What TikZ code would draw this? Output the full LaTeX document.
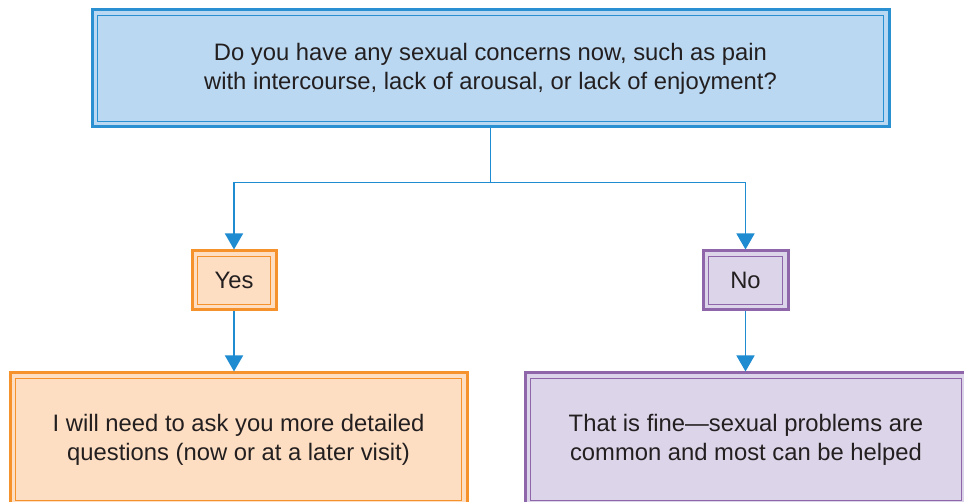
\documentclass[tikz,border=0pt]{standalone}
\usepackage{fontspec}
\setmainfont{Liberation Sans}
\usetikzlibrary{positioning,arrows.meta,calc}
\definecolor{cLink}{HTML}{1F8BD0}
\definecolor{cQuestion}{HTML}{2A90D2}
\definecolor{cQuestionBg}{HTML}{BAD8F1}
\definecolor{cYes}{HTML}{F5922C}
\definecolor{cYesBg}{HTML}{FDDEC2}
\definecolor{cNo}{HTML}{8E66A9}
\definecolor{cNoBg}{HTML}{DCD5E9}
\definecolor{cText}{HTML}{231F20}
\tikzset{
  box/.style={draw, line width=3pt, inner sep=0pt, align=center,
              font=\fontsize{23.8}{29}\selectfont, text=cText},
  qBox/.style={box, draw=cQuestion, fill=cQuestionBg},
  yesBox/.style={box, draw=cYes, fill=cYesBg},
  noBox/.style={box, draw=cNo, fill=cNoBg},
  innerLine/.style={line width=1.2pt},
  link/.style={draw=cLink, line width=1.5pt},
  linkArrow/.style={link, -{Triangle[width=18pt,length=16pt]}},
}

\begin{document}
\begin{tikzpicture}[x=1pt,y=1pt]
\clip (0,0) rectangle (964,502);

% ========== QUESTION ==========
\node[qBox, minimum width=797pt, minimum height=117pt] (q) at (490.5,433.5)
  {Do you have any sexual concerns now, such as pain\\
   with intercourse, lack of arousal, or lack of enjoyment?};

% ========== ANSWERS ==========
\node[yesBox, minimum width=84pt, minimum height=59pt] (yes) at (234,221.5) {Yes};
\node[noBox, minimum width=85pt, minimum height=59pt] (no) at (745.5,221.5) {No};

% ========== FOLLOW-UPS ==========
\node[yesBox, minimum width=457pt, minimum height=133pt] (ansYes) at (238.5,62.5)
  {I will need to ask you more detailed\\
   questions (now or at a later visit)};
\node[noBox, minimum width=442pt, minimum height=133pt] (ansNo) at (746,62.5)
  {That is fine---sexual problems are\\
   common and most can be helped};

% inner frame of each box
\foreach \n/\c in {q/cQuestion, yes/cYes, no/cNo, ansYes/cYes, ansNo/cNo}
  \draw[innerLine, draw=\c] ($(\n.north west)+(7,-7)$) rectangle ($(\n.south east)+(-7,7)$);

% connectors
\draw[link] (q.south) -- ++(0,-54) coordinate (split);
\draw[linkArrow] (split) -| (yes.north);
\draw[linkArrow] (split) -| (no.north);
\draw[linkArrow] (yes.south) -- (yes.south |- ansYes.north);
\draw[linkArrow] (no.south) -- (no.south |- ansNo.north);

\end{tikzpicture}
\end{document}
